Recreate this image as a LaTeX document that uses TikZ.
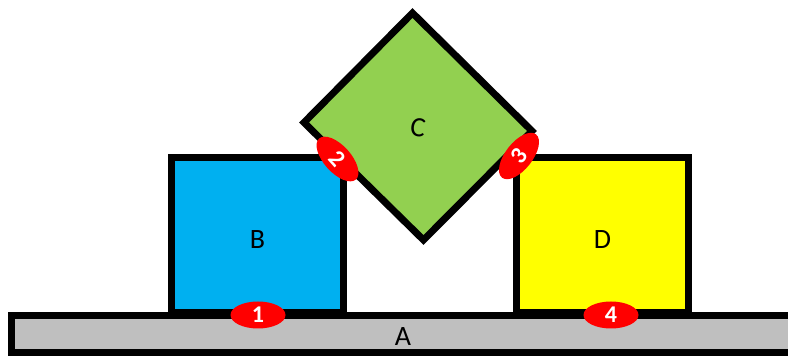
\documentclass[tikz,border=0pt]{standalone}
\usepackage{fontspec}
\setmainfont{Carlito}
\usetikzlibrary{shapes.geometric}
\definecolor{blockA}{HTML}{BFBFBF}
\definecolor{blockB}{HTML}{00B0F0}
\definecolor{blockC}{HTML}{92D050}
\definecolor{blockD}{HTML}{FFFF00}
\definecolor{contact}{HTML}{FF0000}
\tikzset{
  block/.style={draw=black, line width=7pt, line join=miter, inner sep=0pt},
  boxblock/.style={block, rectangle, minimum width=172pt, minimum height=155pt},
  blocklabel/.style={font=\fontsize{28}{30}\selectfont, inner sep=0pt},
  contactpt/.style={ellipse, fill=contact, text=white, inner sep=0pt,
    minimum width=55pt, minimum height=27pt,
    font=\bfseries\fontsize{24}{25}\selectfont},
}
\begin{document}
\begin{tikzpicture}[x=1pt,y=1pt]
\useasboundingbox (0,0) rectangle (788,356);
% ground block A
\node[block, rectangle, fill=blockA, minimum width=783pt, minimum height=37pt]
  (A) at (403.25,21.5) {};
\node[blocklabel] (Alab) at (403,19) {A};
% blocks B and D resting on A
\node[boxblock, fill=blockB, anchor=south west] (B) at (168,40) {};
\node[blocklabel, yshift=-5pt] (Blab) at (B.center) {B};
\node[boxblock, fill=blockD, anchor=south west] (D) at (513,40) {};
\node[blocklabel, yshift=-5pt] (Dlab) at (D.center) {D};
% tilted block C wedged between B and D
\coordinate (Ct) at (412.5,343);
\coordinate (Cl) at (304,233.5);
\coordinate (Cb) at (423.5,116);
\coordinate (Cr) at (532,225);
\draw[block, fill=blockC] (Ct) -- (Cr) -- (Cb) -- (Cl) -- cycle;
\node[blocklabel, rotate=-8] (Clab) at (418,228) {C};
% contact points
\node[contactpt] (p1) at (258,41) {1};
\node[contactpt, rotate=-48] (p2) at (337.5,197) {2};
\node[contactpt, rotate=52] (p3) at (519,200) {3};
\node[contactpt] (p4) at (611,41) {4};
\end{tikzpicture}
\end{document}
